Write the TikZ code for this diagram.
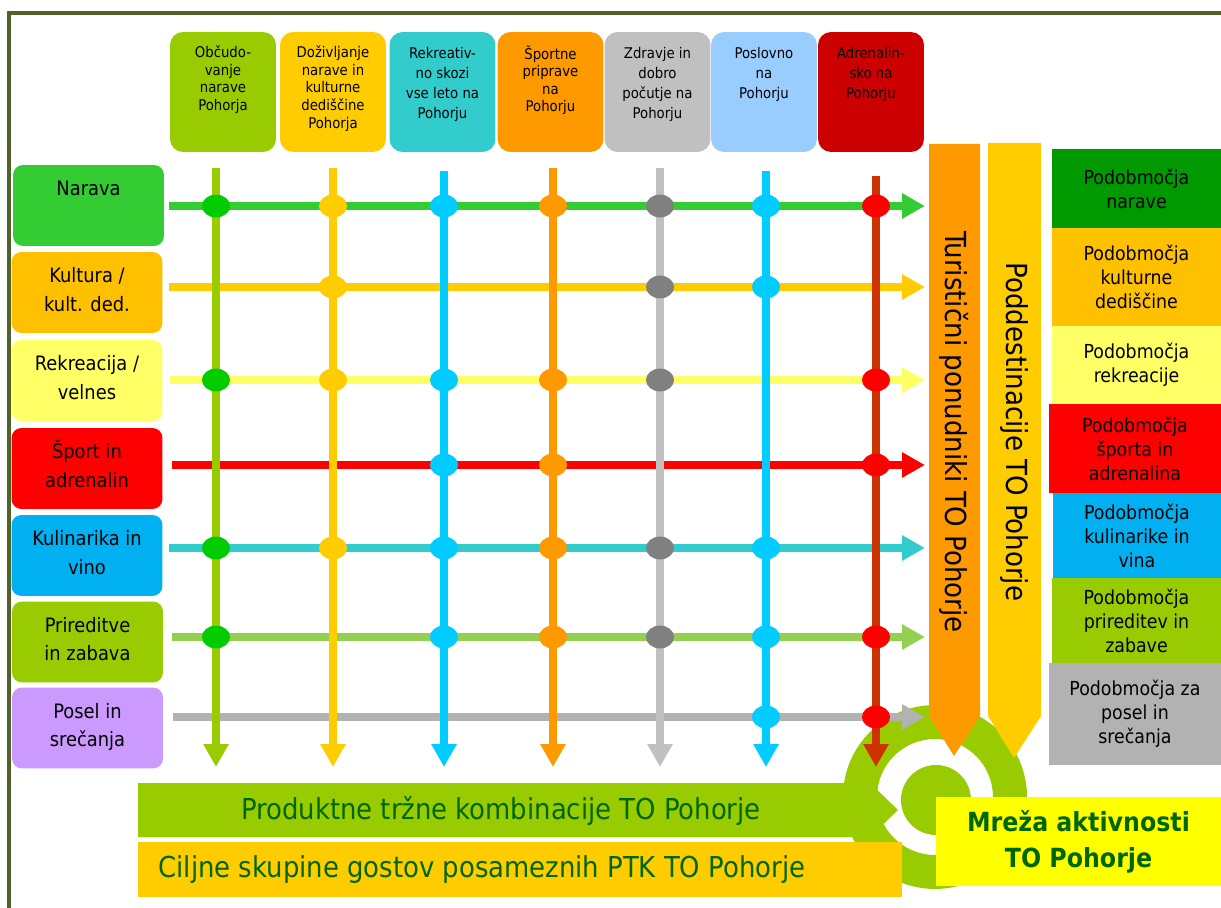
\documentclass[tikz,border=0pt]{standalone}
\usepackage{fontspec}
\setmainfont{DejaVu Sans Condensed}
\usetikzlibrary{arrows.meta,shapes.geometric,positioning}
\definecolor{frameolive}{HTML}{4F6228}
\definecolor{hdrA}{HTML}{99CC00}
\definecolor{hdrB}{HTML}{FFCC00}
\definecolor{hdrC}{HTML}{33CCCC}
\definecolor{hdrD}{HTML}{FF9900}
\definecolor{hdrE}{HTML}{C0C0C0}
\definecolor{hdrF}{HTML}{99CCFF}
\definecolor{hdrG}{HTML}{CC0000}
\definecolor{themeA}{HTML}{33CC33}
\definecolor{themeB}{HTML}{FFC000}
\definecolor{themeC}{HTML}{FFFF66}
\definecolor{themeD}{HTML}{FF0000}
\definecolor{themeE}{HTML}{00B0F0}
\definecolor{themeF}{HTML}{99CC00}
\definecolor{themeG}{HTML}{CC99FF}
\definecolor{areaA}{HTML}{009900}
\definecolor{areaG}{HTML}{B2B2B2}
\definecolor{row1}{HTML}{33CC33}
\definecolor{row2}{HTML}{FFCC00}
\definecolor{row3}{HTML}{FFFF66}
\definecolor{row4}{HTML}{FF0000}
\definecolor{row5}{HTML}{33CCCC}
\definecolor{row6}{HTML}{92D050}
\definecolor{row7}{HTML}{B2B2B2}
\definecolor{col1}{HTML}{99CC00}
\definecolor{col2}{HTML}{FFCC00}
\definecolor{col3}{HTML}{00CCFF}
\definecolor{col4}{HTML}{FF9900}
\definecolor{col5}{HTML}{C0C0C0}
\definecolor{col6}{HTML}{00CCFF}
\definecolor{col7}{HTML}{CC3300}
\definecolor{dot1}{HTML}{00CC00}
\definecolor{dot2}{HTML}{FFCC00}
\definecolor{dot3}{HTML}{00CCFF}
\definecolor{dot4}{HTML}{FF9900}
\definecolor{dot5}{HTML}{808080}
\definecolor{dot6}{HTML}{00CCFF}
\definecolor{dot7}{HTML}{FF0000}
\definecolor{barorange}{HTML}{FF9900}
\definecolor{baryellow}{HTML}{FFCC00}
\definecolor{bandgreen}{HTML}{99CC00}
\definecolor{textgreen}{HTML}{006600}
\definecolor{mrezayellow}{HTML}{FFFF00}
\tikzset{
    hdr box/.style={rectangle, rounded corners=2.6mm, minimum width=2.12cm, minimum height=2.4cm, inner sep=0},
    hdr text/.style={align=center, inner sep=0, font=\fontsize{8.4}{10}\selectfont},
    hdr loose/.style={hdr text, font=\fontsize{8.4}{11.4}\selectfont},
    theme box/.style={rectangle, rounded corners=2mm, minimum width=3.02cm, minimum height=1.62cm, inner sep=0},
    theme text/.style={align=center, inner sep=0, font=\fontsize{11.3}{16}\selectfont},
    area box/.style={rectangle, align=center, inner sep=0, minimum width=3.38cm, font=\fontsize{11}{13.7}\selectfont},
    flow/.style={line width=4pt, -{Triangle[width=13.6pt,length=13pt]}},
    hit/.style={ellipse, minimum width=16pt, minimum height=13pt, inner sep=0},
    bar text/.style={rotate=-90, inner sep=0, font=\fontsize{16.5}{20}\selectfont},
    band text/.style={text=textgreen, inner sep=0, font=\fontsize{16.4}{20}\selectfont}
}
\begin{document}
\begin{tikzpicture}[x=0.02cm, y=-0.02cm]
\useasboundingbox (0,0) rectangle (1221,908);
\draw[frameolive, line width=2.2pt] (9,908) -- (9,13) -- (1221,13);

% stolpci
\node[hdr box, fill=hdrA] (h1) at (223,92) {};
\node[hdr text, below=2.7mm of h1.north] (ht1) {\strut Občudo-\\vanje\\narave\\Pohorja};
\node[hdr box, fill=hdrB] (h2) at (333,92) {};
\node[hdr text, below=2.7mm of h2.north] (ht2) {\strut Doživljanje\\narave in\\kulturne\\dediščine\\Pohorja};
\node[hdr box, fill=hdrC] (h3) at (442.5,92) {};
\node[hdr loose, below=2.4mm of h3.north] (ht3) {\strut Rekreativ-\\no skozi\\vse leto na\\Pohorju};
\node[hdr box, fill=hdrD] (h4) at (550.5,92) {};
\node[hdr text, below=2.7mm of h4.north] (ht4) {\strut Športne\\priprave\\na\\Pohorju};
\node[hdr box, fill=hdrE] (h5) at (657.5,92) {};
\node[hdr loose, below=2.4mm of h5.north] (ht5) {\strut Zdravje in\\dobro\\počutje na\\Pohorju};
\node[hdr box, fill=hdrF] (h6) at (764,92) {};
\node[hdr loose, below=2.4mm of h6.north] (ht6) {\strut Poslovno\\na\\Pohorju};
\node[hdr box, fill=hdrG] (h7) at (871,92) {};
\node[hdr loose, below=2.4mm of h7.north] (ht7) {\strut Adrenalin-\\sko na\\Pohorju};

% vrstice
\node[theme box, fill=themeA] (t1) at (88.5,205.5) {};
\node[theme text, below=2.25mm of t1.north] (tt1) {\strut Narava};
\node[theme box, fill=themeB] (t2) at (87,292.5) {};
\node[theme text, below=2.25mm of t2.north] (tt2) {\strut Kultura /\\kult. ded.};
\node[theme box, fill=themeC] (t3) at (87,380.5) {};
\node[theme text, below=2.25mm of t3.north] (tt3) {\strut Rekreacija /\\velnes};
\node[theme box, fill=themeD] (t4) at (87,468.5) {};
\node[theme text, below=2.25mm of t4.north] (tt4) {\strut Šport in\\adrenalin};
\node[theme box, fill=themeE] (t5) at (87,555.5) {};
\node[theme text, below=2.25mm of t5.north] (tt5) {\strut Kulinarika in\\vino};
\node[theme box, fill=themeF] (t6) at (87.5,642) {};
\node[theme text, below=2.25mm of t6.north] (tt6) {\strut Prireditve\\in zabava};
\node[theme box, fill=themeG] (t7) at (87.5,728) {};
\node[theme text, below=2.25mm of t7.north] (tt7) {\strut Posel in\\srečanja};

% podobmocja
\node[area box, fill=areaA, minimum height=1.58cm] (p1) at (1136.5,188.5) {Podobmočja\\narave};
\node[area box, fill=themeB, minimum height=1.96cm] (p2) at (1136.5,277) {Podobmočja\\kulturne\\dediščine};
\node[area box, fill=themeC, minimum height=1.56cm] (p3) at (1136.5,365) {Podobmočja\\rekreacije};
\node[area box, fill=themeD, minimum width=3.44cm, minimum height=1.78cm] (p4) at (1135,448.5) {Podobmočja\\športa in\\adrenalina};
\node[area box, fill=themeE, minimum width=3.36cm, minimum height=1.7cm] (p5) at (1137,535.5) {Podobmočja\\kulinarike in\\vina};
\node[area box, fill=themeF, minimum height=1.7cm] (p6) at (1136.5,620.5) {Podobmočja\\prireditev in\\zabave};
\node[area box, fill=areaG, minimum width=3.44cm, minimum height=2.04cm] (p7) at (1135,714) {Podobmočja za\\posel in\\srečanja};

\fill[bandgreen, even odd rule] (935,797) circle[radius=1.84cm] (935,797) circle[radius=1.16cm];
\fill[bandgreen] (936,800) circle[radius=0.7cm];

\foreach \j/\ry/\sx in {1/206/169, 2/287/169, 3/380/170, 4/465/172, 5/548/169, 6/637/172, 7/717/173}{
    \coordinate (rs\j) at (\sx,\ry);
    \coordinate (re\j) at (925,\ry);
    \draw[flow, color=row\j] (rs\j) -- (re\j);
}
\foreach \i/\cx/\cy in {1/216/168, 2/333/168, 3/444/171, 4/553/168, 5/660/168, 6/766/171, 7/876/176}{
    \coordinate (ct\i) at (\cx,\cy);
    \coordinate (cb\i) at (\cx,767);
    \draw[flow, color=col\i] (ct\i) -- (cb\i);
}
\foreach \j/\hits in {1/{1,2,3,4,5,6,7}, 2/{2,5,6}, 3/{1,2,3,4,5,7}, 4/{3,4,7}, 5/{1,2,3,4,5,6}, 6/{1,3,4,5,6,7}, 7/{6,7}}{
    \foreach \i in \hits
        \node[hit, fill=dot\i] (d\j\i) at (ct\i |- rs\j) {};
}

\fill[barorange] (929,144) -- (980,144) -- (980,716) -- (954,756) -- (929,716) -- cycle;
\node[bar text] (tpo) at (954,432) {Turistični ponudniki TO Pohorje};
\fill[baryellow] (988,143) -- (1041,143) -- (1041,716) -- (1014,758) -- (988,716) -- cycle;
\node[bar text] (pdd) at (1014,432) {Poddestinacije TO Pohorje};

\fill[bandgreen] (138,783) -- (870,783) -- (898,810) -- (870,837) -- (138,837) -- cycle;
\node[band text] (ptk) at (501,811) {Produktne tržne kombinacije TO Pohorje};
\fill[baryellow] (138,842) rectangle (902,897);
\node[band text] (cilj) at (482,870) {Ciljne skupine gostov posameznih PTK TO Pohorje};

\node[rectangle, fill=mrezayellow, minimum width=5.7cm, minimum height=1.78cm, align=center, text=textgreen, font=\bfseries\fontsize{15}{20.5}\selectfont] (mreza) at (1078.5,841.5) {Mreža aktivnosti\\TO Pohorje};
\end{tikzpicture}
\end{document}
